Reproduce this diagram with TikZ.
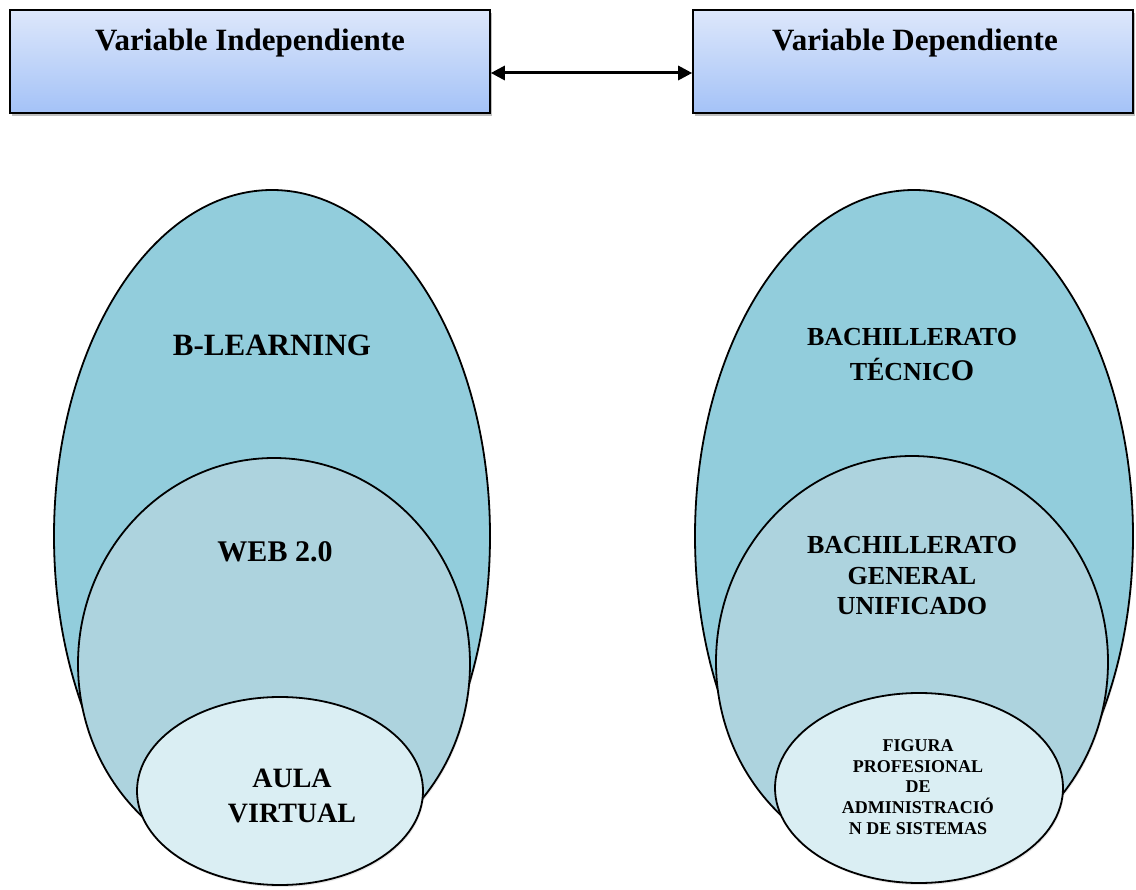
\documentclass[tikz,border=0pt]{standalone}
\usepackage{fontspec}
\setmainfont{Liberation Serif}
\usetikzlibrary{shapes.geometric,arrows.meta,shadows}
\definecolor{boxtop}{HTML}{DDE7FB}
\definecolor{boxbot}{HTML}{A4C2F7}
\definecolor{outerc}{HTML}{92CDDC}
\definecolor{midc}{HTML}{ADD3DE}
\definecolor{innerc}{HTML}{DAEEF3}

\begin{document}
\begin{tikzpicture}[x=1pt,y=-1pt,
    varbox/.style={draw=black, line width=1.6pt, top color=boxtop, bottom color=boxbot,
        minimum height=103pt, inner sep=0pt,
        drop shadow={shadow xshift=2pt, shadow yshift=-3pt, opacity=0.5}},
    ring/.style={ellipse, draw=black, line width=1.8pt, inner sep=0pt,
        drop shadow={shadow xshift=1pt, shadow yshift=-2pt, opacity=0.2}},
    lbl/.style={font=\bfseries, align=center}]
    \useasboundingbox (0,0) rectangle (1136,890);
    \node[varbox, minimum width=480pt] (vi) at (250,61.5) {};
    \node[varbox, minimum width=440pt] (vd) at (913,61.5) {};
    \node[lbl, font=\bfseries\fontsize{31}{36}\selectfont] (vitext) at (250,43) {Variable Independiente};
    \node[lbl, font=\bfseries\fontsize{31}{36}\selectfont] (vdtext) at (915,43) {Variable Dependiente};
    \draw[{Triangle[length=14pt,width=14pt]}-{Triangle[length=14pt,width=14pt]}, line width=3pt]
        ([yshift=-11.5pt]vi.east) -- ([yshift=-11.5pt]vd.west);
    % left side
    \node[ring, fill=outerc, minimum width=436pt, minimum height=692pt] (bl) at (272,536) {};
    \node[ring, fill=midc, minimum width=392pt, minimum height=412pt] (web) at (274,664) {};
    \node[ring, fill=innerc, minimum width=286pt, minimum height=188pt] (aula) at (280,791) {};
    \node[lbl, font=\bfseries\fontsize{31}{36}\selectfont] (bltext) at (272,345) {B-LEARNING};
    \node[lbl, font=\bfseries\fontsize{30}{36}\selectfont] (webtext) at (275,552) {WEB 2.0};
    \node[lbl, font=\bfseries\fontsize{28}{35}\selectfont] (aulatext) at (292,796) {AULA\\VIRTUAL};
    % right side
    \node[ring, fill=outerc, minimum width=438pt, minimum height=692pt] (bt) at (914,536) {};
    \node[ring, fill=midc, minimum width=392pt, minimum height=412pt] (bgu) at (912,662) {};
    \node[ring, fill=innerc, minimum width=288pt, minimum height=190pt] (fig) at (919,788) {};
    \node[lbl, font=\bfseries\fontsize{26}{35}\selectfont] (bttext) at (912,355) {BACHILLERATO\\T\'ECNIC{\fontsize{30}{35}\selectfont O}};
    \node[lbl, font=\bfseries\fontsize{26}{30.5}\selectfont] (bgutext) at (912,576) {BACHILLERATO\\GENERAL\\UNIFICADO};
    \node[lbl, font=\bfseries\fontsize{18}{20.7}\selectfont] (figtext) at (918,787) {FIGURA\\PROFESIONAL\\DE\\ADMINISTRACI\'O\\N DE SISTEMAS};
\end{tikzpicture}
\end{document}
